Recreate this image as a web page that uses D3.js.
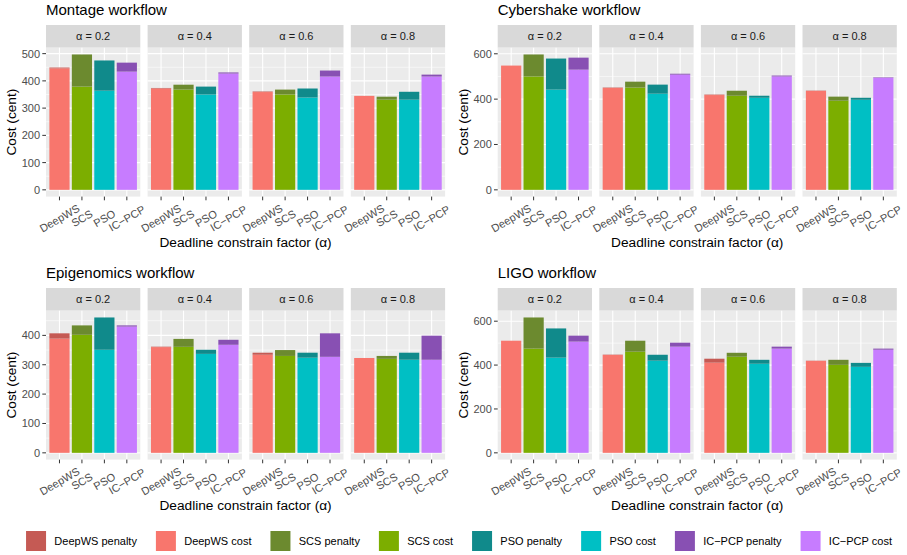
<!DOCTYPE html>
<html>
<head>
<meta charset="utf-8">
<script src="https://cdn.jsdelivr.net/npm/d3@7"></script>
<style>
  body { margin: 0; background: #fff; }
  text { font-family: "Liberation Sans", Arial, Helvetica, sans-serif; }
</style>
</head>
<body>
<div id="chart"></div>
<script>
const algorithms = ["DeepWS", "SCS", "PSO", "IC-PCP"];
const algLabels = ["DeepWS", "SCS", "PSO", "IC\u2212PCP"];
const alphas = ["0.2", "0.4", "0.6", "0.8"];

// cost[alpha][algorithm], penalty[alpha][algorithm]
const montageCost = [[446, 379, 364, 434], [372, 368, 350, 427], [359, 350, 339, 416], [345, 331, 331, 416]];
const montagePenalty = [[3, 118, 111, 33], [2, 18, 29, 4], [2, 18, 33, 22], [0, 11, 29, 7]];
const cybershakeCost = [[548, 500, 442, 530], [449, 451, 424, 508], [418, 415, 406, 500], [436, 393, 397, 494]];
const cybershakePenalty = [[0, 97, 137, 53], [2, 26, 40, 4], [2, 22, 9, 4], [1.5, 18, 9, 2]];
const epigenomicsCost = [[389, 402, 351, 430], [360, 361, 337, 368], [334, 330, 324, 327], [323, 320, 317, 317]];
const epigenomicsPenalty = [[18, 32, 110, 4], [1.5, 27, 14, 17], [7, 20, 17, 80], [0, 10, 24, 82]];
const ligoCost = [[511, 475, 434, 507], [446, 461, 420, 484], [411, 438, 406, 475], [419, 401, 392, 470]];
const ligoPenalty = [[0, 142, 133, 27], [1.5, 50, 27, 18], [18, 18, 18, 9], [1, 23, 18, 5]];

const montageTicks = [0, 100, 200, 300, 400, 500];
const cybershakeTicks = [0, 200, 400, 600];
const epigenomicsTicks = [0, 100, 200, 300, 400];
const ligoTicks = [0, 200, 400, 600];

const workflows = [
  { title: "Montage workflow", cost: montageCost, penalty: montagePenalty, ticks: montageTicks },
  { title: "Cybershake workflow", cost: cybershakeCost, penalty: cybershakePenalty, ticks: cybershakeTicks },
  { title: "Epigenomics workflow", cost: epigenomicsCost, penalty: epigenomicsPenalty, ticks: epigenomicsTicks },
  { title: "LIGO workflow", cost: ligoCost, penalty: ligoPenalty, ticks: ligoTicks }
];

const costColors = ["#F8766D", "#7CAE00", "#00BFC4", "#C77CFF"];
const penaltyColors = ["#C55A54", "#6C8A2F", "#108A8B", "#8850B3"];

const W = 907, H = 555;
const svg = d3.select("#chart").append("svg")
    .attr("width", W)
    .attr("height", H);

// layout of one workflow cell
const colX = [46, 497.7];
const rowY = [0, 263];
const panelW = 94.3, panelGap = 7.3;
const stripTop = 25, stripH = 22.7;
const panelTop = stripTop + stripH, panelBottom = 196.6;
const tickLen = 3.7;
const fullW = panelW * 4 + panelGap * 3;

workflows.forEach((wf, wi) => {
    const x0 = colX[wi % 2];
    const g = svg.append("g").attr("transform", `translate(${x0},${rowY[Math.floor(wi / 2)]})`);

    const maxTotal = d3.max(wf.cost.flatMap((row, i) => row.map((c, j) => c + wf.penalty[i][j])));
    const y = d3.scaleLinear()
        .domain([-0.05 * maxTotal, 1.05 * maxTotal])
        .range([panelBottom, panelTop]);
    const step = wf.ticks[1] - wf.ticks[0];
    const minor = d3.range(step / 2, y.domain()[1], step);

    // title
    g.append("text")
        .attr("x", 0)
        .attr("y", 15)
        .style("font-size", "15px")
        .attr("fill", "#000")
        .text(wf.title);

    alphas.forEach((a, ai) => {
        const px = ai * (panelW + panelGap);
        const x = d3.scaleBand().domain(algorithms)
            .range([px, px + panelW])
            .paddingInner(0.1)
            .paddingOuter(0.15);

        // strip
        g.append("rect")
            .attr("x", px).attr("y", stripTop)
            .attr("width", panelW).attr("height", stripH)
            .attr("fill", "#D9D9D9");
        g.append("text")
            .attr("x", px + panelW / 2)
            .attr("y", stripTop + stripH / 2)
            .attr("text-anchor", "middle")
            .attr("dominant-baseline", "central")
            .style("font-size", "11px")
            .attr("fill", "#1A1A1A")
            .text(`\u03B1 = ${a}`);

        // panel background + grid
        g.append("rect")
            .attr("x", px).attr("y", panelTop)
            .attr("width", panelW).attr("height", panelBottom - panelTop)
            .attr("fill", "#EBEBEB");
        g.selectAll(null).data(minor).enter().append("line")
            .attr("x1", px).attr("x2", px + panelW)
            .attr("y1", d => y(d)).attr("y2", d => y(d))
            .attr("stroke", "#fff").attr("stroke-width", 0.55);
        g.selectAll(null).data(wf.ticks).enter().append("line")
            .attr("x1", px).attr("x2", px + panelW)
            .attr("y1", d => y(d)).attr("y2", d => y(d))
            .attr("stroke", "#fff").attr("stroke-width", 1.1);
        g.selectAll(null).data(algorithms).enter().append("line")
            .attr("x1", d => x(d) + x.bandwidth() / 2).attr("x2", d => x(d) + x.bandwidth() / 2)
            .attr("y1", panelTop).attr("y2", panelBottom)
            .attr("stroke", "#fff").attr("stroke-width", 1.1);

        // stacked bars: cost at the bottom, penalty on top
        const bars = algorithms.map((alg, k) => ({
            alg: alg, k: k,
            cost: wf.cost[ai][k],
            penalty: wf.penalty[ai][k]
        }));
        g.selectAll(null).data(bars).enter().append("rect")
            .attr("x", d => x(d.alg))
            .attr("width", x.bandwidth())
            .attr("y", d => y(d.cost))
            .attr("height", d => y(0) - y(d.cost))
            .attr("fill", d => costColors[d.k]);
        g.selectAll(null).data(bars.filter(d => d.penalty > 0)).enter().append("rect")
            .attr("x", d => x(d.alg))
            .attr("width", x.bandwidth())
            .attr("y", d => y(d.cost + d.penalty))
            .attr("height", d => y(d.cost) - y(d.cost + d.penalty))
            .attr("fill", d => penaltyColors[d.k]);

        // x ticks and rotated labels
        g.selectAll(null).data(algorithms).enter().append("line")
            .attr("x1", d => x(d) + x.bandwidth() / 2).attr("x2", d => x(d) + x.bandwidth() / 2)
            .attr("y1", panelBottom).attr("y2", panelBottom + tickLen)
            .attr("stroke", "#333").attr("stroke-width", 1);
        g.selectAll(null).data(algorithms).enter().append("text")
            .attr("transform", d => `translate(${x(d) + x.bandwidth() / 2},${panelBottom + 21.6}) rotate(-30)`)
            .attr("text-anchor", "middle")
            .attr("dominant-baseline", "central")
            .style("font-size", "11px")
            .attr("fill", "#4D4D4D")
            .text((d, i) => algLabels[i]);
    });

    // y axis
    g.selectAll(null).data(wf.ticks).enter().append("line")
        .attr("x1", -tickLen).attr("x2", 0)
        .attr("y1", d => y(d)).attr("y2", d => y(d))
        .attr("stroke", "#333").attr("stroke-width", 1);
    g.selectAll(null).data(wf.ticks).enter().append("text")
        .attr("x", -tickLen - 2.2)
        .attr("y", d => y(d))
        .attr("text-anchor", "end")
        .attr("dominant-baseline", "central")
        .style("font-size", "11px")
        .attr("fill", "#4D4D4D")
        .text(d => d);

    // axis titles
    g.append("text")
        .attr("x", fullW / 2)
        .attr("y", 246.5)
        .attr("text-anchor", "middle")
        .style("font-size", "13.7px")
        .attr("fill", "#000")
        .text("Deadline constrain factor (\u03B1)");
    g.append("text")
        .attr("transform", `translate(-34.5,${(panelTop + panelBottom) / 2}) rotate(-90)`)
        .attr("text-anchor", "middle")
        .attr("dominant-baseline", "central")
        .style("font-size", "13.7px")
        .attr("fill", "#000")
        .text("Cost (cent)");
});

// legend along the bottom
const legendItems = [];
algLabels.forEach((a, k) => {
    legendItems.push({ label: a + " penalty", color: penaltyColors[k] });
    legendItems.push({ label: a + " cost", color: costColors[k] });
});
const legend = svg.append("g");
let lx = 0;
legendItems.forEach(item => {
    legend.append("rect")
        .attr("x", lx).attr("y", 531)
        .attr("width", 20).attr("height", 20)
        .attr("fill", item.color);
    const t = legend.append("text")
        .attr("x", lx + 28.3)
        .attr("y", 541)
        .attr("dominant-baseline", "central")
        .style("font-size", "11px")
        .attr("fill", "#000")
        .text(item.label);
    lx += 28.3 + t.node().getComputedTextLength() + 19;
});
const legendW = lx - 19;
legend.attr("transform", `translate(${459 - legendW / 2},0)`);
</script>
</body>
</html>
